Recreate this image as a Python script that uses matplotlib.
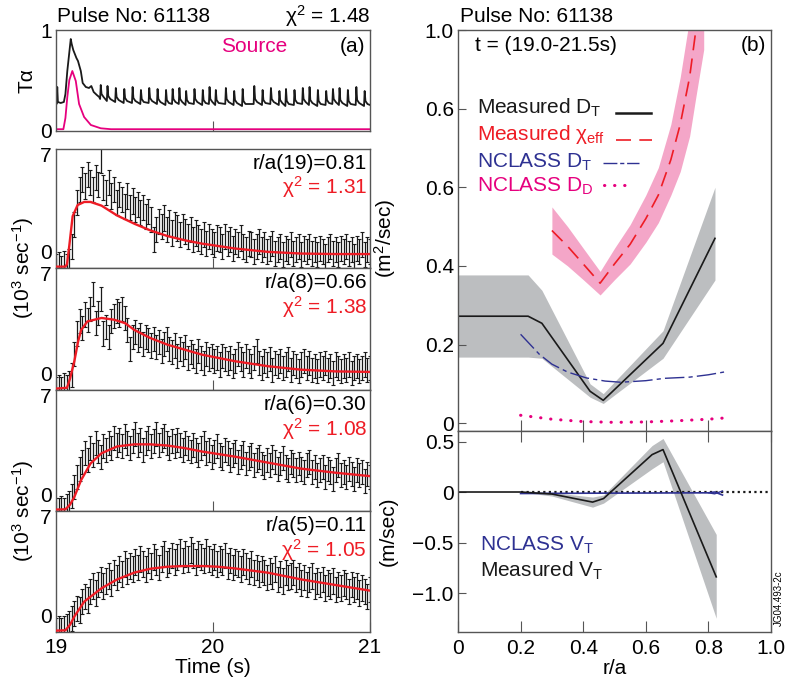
import numpy as np
import matplotlib
matplotlib.use("Agg")
from matplotlib import pyplot as plt
from matplotlib.transforms import ScaledTranslation

plt.rcParams["font.family"] = ["Liberation Sans", "DejaVu Sans"]
plt.rcParams["mathtext.fontset"] = "custom"
plt.rcParams["mathtext.rm"] = "Liberation Sans"
plt.rcParams["mathtext.it"] = "Liberation Sans"
plt.rcParams["mathtext.bf"] = "Liberation Sans"

FS = 15
RED = "#ee1c25"
MAG = "#e6007e"
BLUE = "#2e3192"
GREY = "#bcbec0"
PINK = "#f4a6c8"
SPINE = "#555555"

# ---------------- Tα trace (panel a, top) ----------------
ha0_t = [19.0, 19.004, 19.008, 19.012, 19.03, 19.05, 19.06, 19.072, 19.085, 19.094,
         19.10, 19.11, 19.12, 19.13, 19.14, 19.158, 19.17, 19.19, 19.21, 19.225,
         19.24, 19.26, 19.275]
ha0_v = [0.28, 0.26, 0.43, 0.28, 0.27, 0.28, 0.36, 0.59, 0.78, 0.91,
         0.86, 0.80, 0.76, 0.72, 0.69, 0.59, 0.47, 0.43, 0.42, 0.44,
         0.38, 0.35, 0.33]
elm_t = [19.285, 19.328, 19.381, 19.435, 19.488, 19.541, 19.594, 19.647, 19.701, 19.743,
         19.786, 19.829, 19.882, 19.935, 19.978, 20.018, 20.082, 20.135, 20.189, 20.263,
         20.316, 20.369, 20.423, 20.465, 20.519, 20.572, 20.615, 20.668, 20.721, 20.764,
         20.806, 20.859, 20.913, 20.966]
elm_pk = [0.45, 0.44, 0.42, 0.41, 0.43, 0.40, 0.42, 0.41, 0.40, 0.41,
          0.42, 0.39, 0.41, 0.40, 0.43, 0.40, 0.42, 0.39, 0.41, 0.44,
          0.40, 0.42, 0.39, 0.41, 0.40, 0.42, 0.43, 0.40, 0.39, 0.41,
          0.42, 0.40, 0.43, 0.39]
elm_base = [0.31, 0.29, 0.28, 0.27, 0.27, 0.26, 0.27, 0.26, 0.25, 0.26,
            0.26, 0.25, 0.26, 0.25, 0.26, 0.25, 0.26, 0.25, 0.24, 0.26,
            0.25, 0.26, 0.25, 0.24, 0.25, 0.26, 0.25, 0.24, 0.25, 0.26,
            0.25, 0.24, 0.25, 0.24]
src_t = [19.0, 19.047, 19.06, 19.072, 19.085, 19.104, 19.126, 19.147, 19.179, 19.222,
         19.285, 19.35, 21.0]
src_v = [0.008, 0.008, 0.12, 0.33, 0.50, 0.59, 0.49, 0.26, 0.13, 0.05,
         0.017, 0.008, 0.008]

# ---------------- tritium emission, 4 chords ----------------
chords = ["r/a(19)=0.81", "r/a(8)=0.66", "r/a(6)=0.30", "r/a(5)=0.11"]
chi2 = ["1.31", "1.38", "1.08", "1.05"]
err = [0.75, 0.7, 0.7, 0.75]

em_081 = [0.0, 0.1, -0.1, 0.2, 0.0, 0.3, 1.2, 2.5, 3.8, 4.6,
          5.2, 4.8, 5.5, 5.0, 4.6, 5.3, 4.9, 6.3, 4.7, 4.4,
          5.0, 4.2, 4.6, 3.8, 4.3, 4.0, 3.6, 4.2, 3.5, 3.9,
          3.4, 3.7, 3.2, 3.5, 3.0, 3.3, 2.8, 1.6, 2.2, 2.7,
          2.4, 2.9, 2.2, 2.6, 2.0, 2.5, 2.3, 1.9, 2.4, 2.1,
          1.8, 2.2, 1.6, 2.0, 1.7, 1.5, 1.9, 1.4, 1.8, 1.5,
          1.3, 1.7, 1.6, 1.2, 1.8, 1.4, 1.6, 1.1, 1.5, 1.3,
          1.7, 1.2, 1.0, 1.4, 1.3, 0.9, 1.2, 1.5, 1.0, 1.3,
          0.9, 1.1, 1.4, 0.8, 1.0, 1.2, 0.7, 1.1, 0.9, 1.3,
          0.8, 1.0, 1.2, 0.7, 1.1, 0.9, 1.2, 0.8, 1.0, 0.7,
          1.1, 0.9, 0.6, 1.0, 1.2, 0.8, 1.0, 0.7, 1.1, 0.9,
          1.2, 0.8, 1.0, 0.6, 1.1, 0.9, 1.3, 0.7, 1.0, 0.9]
em_066 = [0.0, 0.1, 0.0, 0.2, 0.1, 0.3, 0.8, 2.0, 3.2, 3.9,
          3.5, 4.3, 4.0, 4.6, 5.5, 3.8, 4.4, 5.2, 3.2, 3.6,
          3.0, 3.9, 4.2, 4.5, 4.3, 4.6, 4.1, 3.4, 2.3, 3.0,
          3.3, 2.8, 3.1, 2.6, 3.0, 2.8, 2.5, 2.9, 2.4, 2.7,
          2.2, 2.6, 2.9, 2.3, 2.1, 2.5, 1.9, 2.3, 2.0, 2.4,
          1.8, 2.1, 1.9, 1.6, 2.2, 1.8, 1.5, 2.0, 1.7, 1.9,
          1.6, 1.8, 1.4, 1.9, 1.7, 1.5, 1.8, 1.3, 1.6, 2.0,
          1.7, 1.4, 1.9, 1.6, 1.3, 1.8, 2.2, 1.5, 1.2, 1.6,
          1.4, 1.7, 1.1, 1.5, 1.3, 1.6, 1.2, 1.4, 1.7, 1.1,
          1.5, 1.3, 1.0, 1.4, 1.6, 1.2, 1.5, 1.1, 1.3, 1.0,
          1.4, 1.2, 1.5, 1.1, 1.3, 0.9, 1.4, 1.2, 1.0, 1.3,
          1.1, 1.4, 0.9, 1.2, 1.3, 1.0, 1.2, 1.4, 1.1, 1.2]
em_030 = [0.0, 0.0, 0.1, 0.0, 0.2, 0.4, 0.8, 1.3, 1.9, 2.4,
          2.8, 3.3, 2.9, 3.6, 3.2, 3.9, 3.4, 3.1, 3.7, 3.5,
          3.9, 3.6, 4.2, 3.8, 4.1, 3.7, 4.3, 3.9, 3.6, 4.0,
          4.4, 3.8, 4.1, 3.5, 3.9, 4.2, 3.7, 4.0, 4.4, 3.8,
          4.1, 4.3, 3.9, 3.6, 4.0, 3.7, 4.1, 3.8, 3.5, 3.9,
          3.6, 3.4, 3.8, 3.5, 3.2, 3.6, 3.9, 3.3, 3.5, 3.1,
          3.4, 3.7, 3.2, 3.0, 3.5, 3.3, 2.9, 3.2, 3.4, 2.8,
          3.1, 3.3, 2.7, 3.0, 3.2, 2.6, 2.9, 3.1, 2.7, 2.5,
          2.9, 2.6, 3.1, 2.8, 2.4, 2.7, 3.0, 2.5, 2.3, 2.8,
          2.6, 2.3, 2.7, 2.4, 2.2, 2.6, 2.8, 2.2, 2.5, 2.0,
          2.3, 2.5, 1.9, 2.4, 2.2, 1.8, 2.3, 2.6, 2.0, 2.2,
          1.9, 2.4, 2.1, 1.8, 2.3, 2.0, 2.2, 1.7, 2.1, 1.9]
em_011 = [0.0, 0.1, 0.0, 0.1, 0.2, 0.4, 0.7, 1.0, 1.3, 1.2,
          1.7, 2.0, 1.8, 2.3, 2.6, 2.2, 2.7, 3.0, 2.6, 2.9,
          3.2, 2.8, 3.4, 3.1, 3.6, 3.3, 3.9, 3.5, 3.8, 3.6,
          4.0, 3.7, 4.2, 3.9, 3.6, 4.1, 3.8, 4.3, 4.0, 3.7,
          4.2, 4.5, 3.9, 4.1, 4.4, 4.0, 4.3, 4.6, 4.1, 4.5,
          4.2, 4.7, 4.4, 4.0, 4.5, 4.3, 4.1, 4.6, 4.2, 4.0,
          4.3, 3.9, 4.2, 4.0, 4.4, 3.8, 4.1, 3.7, 4.0, 3.9,
          3.6, 4.0, 3.8, 3.5, 3.9, 3.4, 3.7, 3.3, 3.6, 3.4,
          3.1, 3.5, 3.2, 3.6, 3.0, 3.3, 2.9, 3.4, 3.1, 3.2,
          3.4, 3.0, 3.2, 2.8, 3.1, 2.7, 3.0, 3.2, 2.6, 2.9,
          2.7, 3.0, 2.5, 2.8, 2.6, 2.9, 2.4, 2.7, 2.5, 2.8,
          2.6, 2.3, 2.7, 2.4, 2.6, 2.2, 2.5, 2.3, 2.0, 2.4]

fit_t_081 = [19.0, 19.06, 19.07, 19.085, 19.106, 19.138, 19.18, 19.22, 19.29, 19.39,
             19.5, 19.6, 19.71, 19.82, 19.93, 20.14, 20.35, 20.56, 20.78, 21.0]
fit_081 = [0.0, 0.0, 0.15, 1.27, 3.0, 3.67, 3.85, 3.85, 3.63, 3.04,
           2.55, 2.16, 1.82, 1.57, 1.37, 1.08, 0.88, 0.78, 0.75, 0.75]
fit_t_066 = [19.0, 19.07, 19.09, 19.117, 19.14, 19.16, 19.2, 19.29, 19.37, 19.44,
             19.5, 19.6, 19.71, 19.93, 20.14, 20.35, 20.56, 20.78, 21.0]
fit_066 = [0.0, 0.05, 0.6, 1.6, 2.7, 3.4, 3.9, 4.1, 4.0, 3.8,
           3.4, 2.94, 2.55, 1.97, 1.59, 1.3, 1.1, 1.0, 0.97]
fit_t_030 = [19.0, 19.06, 19.09, 19.117, 19.16, 19.22, 19.29, 19.39, 19.5, 19.6,
             19.71, 19.82, 19.93, 20.14, 20.35, 20.56, 20.78, 21.0]
fit_030 = [0.0, 0.02, 0.3, 0.75, 1.73, 2.7, 3.3, 3.7, 3.82, 3.82,
           3.75, 3.6, 3.4, 3.1, 2.75, 2.4, 2.16, 1.96]
fit_t_011 = [19.0, 19.06, 19.09, 19.117, 19.18, 19.29, 19.39, 19.5, 19.6, 19.71,
             19.82, 19.93, 20.03, 20.14, 20.35, 20.56, 20.78, 21.0]
fit_011 = [0.0, 0.02, 0.35, 0.83, 1.7, 2.48, 3.0, 3.4, 3.62, 3.74,
           3.78, 3.78, 3.74, 3.64, 3.39, 3.0, 2.67, 2.34]

emissions = [em_081, em_066, em_030, em_011]
fits = [(fit_t_081, fit_081), (fit_t_066, fit_066), (fit_t_030, fit_030), (fit_t_011, fit_011)]

# ---------------- transport profiles (panel b) ----------------
dt_r = [0.0, 0.224, 0.268, 0.422, 0.464, 0.655, 0.821]
dt_meas = [0.272, 0.272, 0.254, 0.081, 0.058, 0.203, 0.47]
dt_hi = [0.377, 0.377, 0.338, 0.10, 0.075, 0.235, 0.60]
dt_lo = [0.168, 0.168, 0.165, 0.066, 0.05, 0.165, 0.364]

chi_r = [0.30, 0.35, 0.40, 0.454, 0.50, 0.55, 0.60, 0.64, 0.68, 0.71, 0.74, 0.76, 0.785]
chi_eff = [0.49, 0.45, 0.405, 0.356, 0.405, 0.455, 0.52, 0.58, 0.67, 0.76, 0.88, 1.0, 1.15]
chi_err = [0.06, 0.05, 0.04, 0.03, 0.04, 0.05, 0.06, 0.07, 0.09, 0.12, 0.15, 0.17, 0.2]

nc_r = [0.2, 0.26, 0.3, 0.35, 0.41, 0.47, 0.52, 0.6, 0.66, 0.74, 0.8, 0.85]
nc_dt = [0.226, 0.175, 0.15, 0.13, 0.115, 0.107, 0.104, 0.108, 0.114, 0.117, 0.123, 0.13]
nc_dd_r = [0.2, 0.3, 0.4, 0.5, 0.6, 0.7, 0.8, 0.85]
nc_dd = [0.02, 0.01, 0.004, 0.002, 0.003, 0.006, 0.01, 0.013]

vt_r = [0.0, 0.2, 0.3, 0.43, 0.465, 0.62, 0.655, 0.825]
vt_meas = [0.0, 0.0, -0.02, -0.1, -0.065, 0.37, 0.42, -0.84]
vt_hi = [0.0, 0.0, -0.005, -0.05, -0.03, 0.46, 0.53, -0.42]
vt_lo = [0.0, 0.0, -0.04, -0.15, -0.11, 0.23, 0.30, -1.25]
vt_nc_r = [0.2, 0.4, 0.6, 0.8, 0.82, 0.845]
vt_nc = [-0.015, -0.012, -0.01, -0.008, 0.0, -0.03]
vt_nc2_r = [0.8, 0.82, 0.845]
vt_nc2 = [-0.008, -0.018, 0.01]

W, H = 786, 687
fig = plt.figure(figsize=(W / 100, H / 100), dpi=100)


def box(x0, y0, x1, y1):
    return [x0 / W, 1 - y1 / H, (x1 - x0) / W, (y1 - y0) / H]


def style(ax):
    for s in ax.spines.values():
        s.set_color(SPINE)
        s.set_linewidth(1.0)
    ax.tick_params(direction="in", colors=SPINE, labelcolor="black", labelsize=FS)


def shift(label, dy_px):
    label.set_transform(label.get_transform() + ScaledTranslation(0, dy_px / 100, fig.dpi_scale_trans))


# ---- panel a top: Tα ----
ax0 = fig.add_axes(box(56, 30, 370, 131))
style(ax0)
tr_t = list(ha0_t)
tr_v = list(ha0_v)
for t, pk, b in zip(elm_t, elm_pk, elm_base):
    tr_t += [t - 0.004, t, t + 0.005, t + 0.018]
    tr_v += [b, pk, b + 0.05, b + 0.02]
tr_t.append(21.0)
tr_v.append(0.25)
ax0.plot(tr_t, tr_v, color="#1a1a1a", lw=1.3)
ax0.plot(src_t, src_v, color=MAG, lw=1.3)
ax0.set_xlim(19, 21)
ax0.set_ylim(-0.01, 1.0)
ax0.set_xticks([20])
ax0.set_xticklabels([])
ax0.tick_params(axis="x", length=7)
ax0.set_yticks([0, 1])
ax0.set_yticklabels(["0", "1"])
ax0.tick_params(axis="y", length=0, pad=3)
ax0.text(0.985, 0.84, "(a)", transform=ax0.transAxes, ha="right", va="center", fontsize=FS)
ax0.text(0.63, 0.84, "Source", transform=ax0.transAxes, ha="center", va="center",
         fontsize=FS, color=MAG)

# ---- panel a: four chords ----
edges = [(149, 268), (268, 390), (390, 511), (511, 632)]
for k in range(4):
    ax = fig.add_axes(box(56, edges[k][0], 370, edges[k][1]))
    style(ax)
    vals = emissions[k]
    t = np.linspace(19.0, 21.0, len(vals))
    ax.errorbar(t, vals, yerr=err[k], fmt="none", ecolor="#1a1a1a", elinewidth=0.9,
                capsize=1.2, capthick=0.8)
    ax.plot(fits[k][0], fits[k][1], color=RED, lw=1.7, zorder=5)
    ax.set_xlim(19, 21)
    ax.set_ylim(-0.08, 7)
    ax.set_xticks([19, 20, 21])
    ax.tick_params(axis="x", length=7, pad=4)
    if k < 3:
        ax.set_xticklabels([])
    ax.set_yticks([0, 7])
    ax.set_yticklabels(["0", "7"])
    ax.tick_params(axis="y", length=0, pad=3)
    lab0, lab7 = ax.get_yticklabels()
    lab0.set_va("bottom")
    shift(lab0, 4)
    lab7.set_va("top")
    shift(lab7, 2)
    ax.text(0.99, 0.88, chords[k], transform=ax.transAxes, ha="right", va="center", fontsize=FS)
    ax.text(0.99, 0.68, "χ$^2$ = " + chi2[k], transform=ax.transAxes, ha="right",
            va="center", fontsize=FS, color=RED)
    if k == 3:
        ax.set_xlabel("Time (s)", fontsize=FS, labelpad=1)

fig.text(57 / W, 1 - 16 / H, "Pulse No: 61138", fontsize=FS, ha="left", va="center")
fig.text(370 / W, 1 - 16 / H, "χ$^2$ = 1.48", fontsize=FS, ha="right", va="center")
fig.text(27 / W, 1 - 81 / H, "Tα", fontsize=FS, rotation=90, ha="center", va="center")
for yc in [268, 511]:
    fig.text(23 / W, 1 - yc / H, "(10$^3$ sec$^{-1}$)", fontsize=FS, rotation=90,
             ha="center", va="center")

# ---- panel b top: diffusivities ----
axb = fig.add_axes(box(458, 30, 771, 431))
style(axb)
axb.fill_between(dt_r, dt_lo, dt_hi, color=GREY, lw=0)
axb.plot(dt_r, dt_meas, color="#1a1a1a", lw=1.2)
chi_lo = [c - e for c, e in zip(chi_eff, chi_err)]
chi_hi = [c + e for c, e in zip(chi_eff, chi_err)]
axb.fill_between(chi_r, chi_lo, chi_hi, color=PINK, lw=0)
axb.plot(chi_r, chi_eff, color=RED, lw=1.2, dashes=(9, 5))
axb.plot(nc_r, nc_dt, color=BLUE, lw=1.0, dashes=(14, 3, 3, 3))
axb.plot(nc_dd_r, nc_dd, color=MAG, lw=2.2, linestyle=(0, (0.1, 3.2)),
         dash_capstyle="round")
axb.set_xlim(0, 1.0)
axb.set_ylim(-0.02, 1.0)
axb.set_xticks([0.2, 0.4, 0.6, 0.8])
axb.set_xticklabels([])
axb.tick_params(axis="x", length=8)
axb.set_yticks([0, 0.2, 0.4, 0.6, 0.8, 1.0])
axb.set_yticklabels(["0", "0.2", "0.4", "0.6", "0.6", "1.0"])
axb.tick_params(axis="y", length=6, pad=3)
axb.set_ylabel("(m$^2$/sec)", fontsize=FS)
axb.yaxis.set_label_coords(-60 / 313, 0.48)
axb.text(17 / 313, 0.962, "t = (19.0-21.5s)", transform=axb.transAxes, ha="left",
         va="center", fontsize=FS)
axb.text(0.985, 0.962, "(b)", transform=axb.transAxes, ha="right", va="center", fontsize=FS)

# legend built by hand to match the figure
leg = [("Measured D$_\\mathrm{T}$", "#1a1a1a", 108, 113, 616, 651, dict(lw=1.8)),
       ("Measured χ$_\\mathrm{eff}$", RED, 135, 140, 616, 652, dict(lw=1.2, dashes=(9, 5))),
       ("NCLASS D$_\\mathrm{T}$", BLUE, 162, 163, 603, 639, dict(lw=1.0, dashes=(10, 2, 3, 2))),
       ("NCLASS D$_\\mathrm{D}$", MAG, 186, 185, 604, 630,
        dict(lw=2.2, linestyle=(0, (0.1, 3.2)), dash_capstyle="round"))]
for txt, col, yt, yl, x0, x1, kw in leg:
    fig.text(477 / W, 1 - yt / H, txt, color=col, fontsize=FS, ha="left", va="center")
    fig.add_artist(plt.Line2D([x0 / W, x1 / W], [1 - yl / H, 1 - yl / H], color=col, **kw))
fig.text(460 / W, 1 - 16 / H, "Pulse No: 61138", fontsize=FS, ha="left", va="center")

# ---- panel b bottom: convection ----
axv = fig.add_axes(box(458, 431, 771, 632))
style(axv)
axv.fill_between(vt_r, vt_lo, vt_hi, color=GREY, lw=0)
axv.plot([0.2, 1.0], [0, 0], color="#1a1a1a", lw=1.6, linestyle=(0, (1, 1.5)))
axv.plot(vt_nc_r, vt_nc, color=BLUE, lw=1.2)
axv.plot(vt_nc2_r, vt_nc2, color=BLUE, lw=1.0)
axv.plot(vt_r, vt_meas, color="#1a1a1a", lw=1.2)
axv.set_xlim(0, 1.0)
axv.set_ylim(-1.386, 0.604)
axv.set_xticks([0, 0.2, 0.4, 0.6, 0.8, 1.0])
axv.set_xticklabels(["0", "0.2", "0.4", "0.6", "0.8", "1.0"])
axv.tick_params(axis="x", length=8, pad=5, top=True)
axv.set_yticks([0.5, 0, -0.5, -1.0])
axv.set_yticklabels(["0.5", "0", "\u22120.5", "\u22121.0"])
axv.tick_params(axis="y", length=6, pad=3)
axv.set_xlabel("r/a", fontsize=FS, labelpad=1)
axv.set_ylabel("(m/sec)", fontsize=FS)
axv.yaxis.set_label_coords(-60 / 313, 0.5)
fig.text(480 / W, 1 - 545 / H, "NCLASS V$_\\mathrm{T}$", color=BLUE, fontsize=FS,
         ha="left", va="center")
fig.text(480 / W, 1 - 571 / H, "Measured V$_\\mathrm{T}$", color="#1a1a1a", fontsize=FS,
         ha="left", va="center")
fig.text(779 / W, 1 - 598 / H, "JG04.493-2c", fontsize=7, rotation=90, ha="center",
         va="center")

fig.savefig("out.png", dpi=100)
